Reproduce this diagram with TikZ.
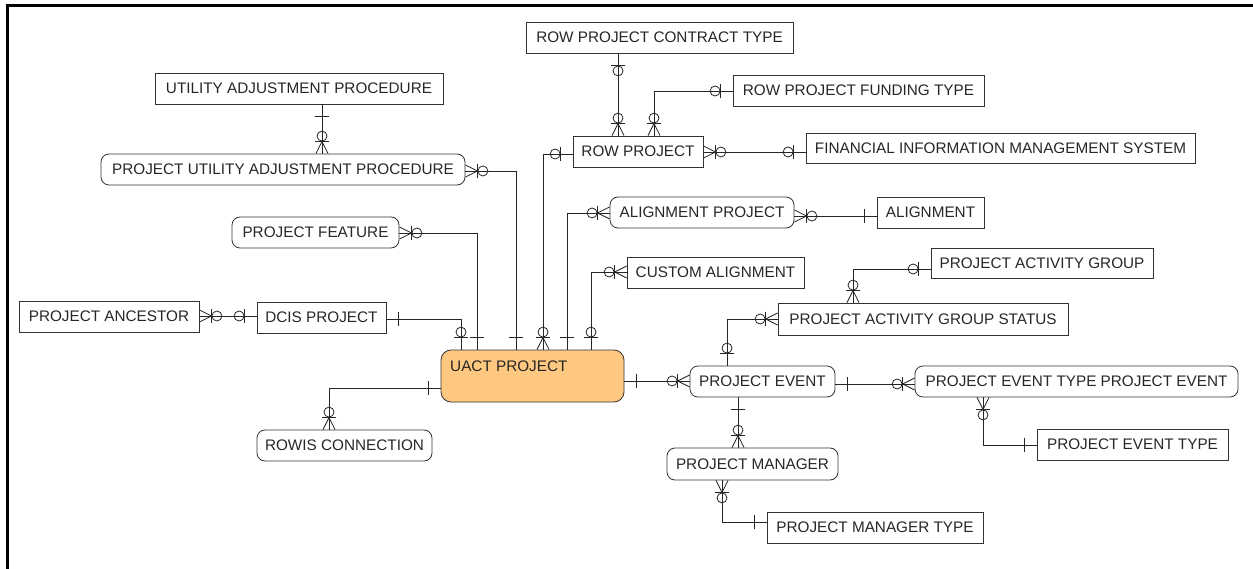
\documentclass[tikz,border=0pt]{standalone}
\usepackage{fontspec}
\setmainfont{Liberation Sans}
\definecolor{uactfill}{RGB}{255,200,128}
\begin{document}
\begin{tikzpicture}[x=1pt,y=1pt,
  ent/.style={draw=black!80, line width=0.8pt, inner sep=0pt, font=\fontsize{15.3}{18}\selectfont, text=black!85},
  rnd/.style={ent, rounded corners=8pt},
  con/.style={draw=black!85, line width=0.8pt},
  mone/.pic={\draw[con] (12,-7)--(12,7);},
  mzone/.pic={\draw[con] (12,-7)--(12,7); \draw[con] (17.5,0) circle (5pt);},
  mzmany/.pic={\draw[con] (0,-6)--(12,0)--(0,6); \draw[con] (12,-7)--(12,7); \draw[con] (17.5,0) circle (5pt);}
]
\useasboundingbox (0,0) rectangle (1253,-569);
\draw[line width=2.2pt] (7.5,-569) -- (7.5,-5.5) -- (1253,-5.5);

% entities
\node[ent, minimum width=288pt, minimum height=31pt] (uap) at (299,-88.5) {UTILITY ADJUSTMENT PROCEDURE};
\node[rnd, minimum width=364pt, minimum height=31pt] (puap) at (283,-169.5) {PROJECT UTILITY ADJUSTMENT PROCEDURE};
\node[ent, minimum width=267pt, minimum height=31pt] (rpct) at (659.5,-37.5) {ROW PROJECT CONTRACT TYPE};
\node[ent, minimum width=251pt, minimum height=31pt] (rpft) at (858.5,-90.5) {ROW PROJECT FUNDING TYPE};
\node[ent, minimum width=130pt, minimum height=31pt] (rp) at (638,-151.5) {ROW PROJECT};
\node[ent, minimum width=389pt, minimum height=30pt] (fims) at (1000.5,-148) {FINANCIAL INFORMATION MANAGEMENT SYSTEM};
\node[rnd, minimum width=184pt, minimum height=31pt] (ap) at (702,-212.5) {ALIGNMENT PROJECT};
\node[ent, minimum width=107pt, minimum height=31pt] (al) at (930.5,-212.5) {ALIGNMENT};
\node[ent, minimum width=177pt, minimum height=31pt] (ca) at (715.5,-272.5) {CUSTOM ALIGNMENT};
\node[ent, minimum width=222pt, minimum height=30pt] (pag) at (1042,-263) {PROJECT ACTIVITY GROUP};
\node[ent, minimum width=290pt, minimum height=32pt] (pags) at (923,-319) {PROJECT ACTIVITY GROUP STATUS};
\node[rnd, minimum width=145pt, minimum height=31pt] (pe) at (762.5,-381.5) {PROJECT EVENT};
\node[rnd, minimum width=323pt, minimum height=31pt] (petpe) at (1076.5,-381.5) {PROJECT EVENT TYPE PROJECT EVENT};
\node[ent, minimum width=191pt, minimum height=31pt] (pet) at (1132.5,-444.5) {PROJECT EVENT TYPE};
\node[rnd, minimum width=171pt, minimum height=32pt] (pm) at (752.5,-464) {PROJECT MANAGER};
\node[ent, minimum width=216pt, minimum height=31pt] (pmt) at (875,-527.5) {PROJECT MANAGER TYPE};
\node[ent, rounded corners=10pt, fill=uactfill, minimum width=183pt, minimum height=52pt] (uact) at (532.5,-376) {};
\node[font=\fontsize{15.3}{18}\selectfont, text=black!85, anchor=west, inner sep=0pt] (uactlbl) at (450,-366) {UACT PROJECT};
\node[rnd, minimum width=175pt, minimum height=31pt] (rowis) at (344.5,-445.5) {ROWIS CONNECTION};
\node[rnd, minimum width=167pt, minimum height=31pt] (pf) at (315.5,-232.5) {PROJECT FEATURE};
\node[ent, minimum width=180pt, minimum height=31pt] (pa) at (109,-316.5) {PROJECT ANCESTOR};
\node[ent, minimum width=129pt, minimum height=31pt] (dcis) at (321.5,-317.5) {DCIS PROJECT};

% connectors
\draw[con] (uap.south -| 322,0) coordinate (a1) -- (puap.north -| 322,0) coordinate (b1);
\pic[rotate=270] at (a1) {mone}; \pic[rotate=90] at (b1) {mzmany};

\draw[con] (rpct.south -| 618,0) coordinate (a2) -- (rp.north -| 618,0) coordinate (b2);
\pic[rotate=270] at (a2) {mzone}; \pic[rotate=90] at (b2) {mzmany};

\draw[con] (rpft.west |- 0,-91) coordinate (a3) -| (rp.north -| 654,0) coordinate (b3);
\pic[rotate=180] at (a3) {mzone}; \pic[rotate=90] at (b3) {mzmany};

\draw[con] (rp.east |- 0,-152) coordinate (a4) -- (fims.west |- 0,-152) coordinate (b4);
\pic[rotate=0] at (a4) {mzmany}; \pic[rotate=180] at (b4) {mzone};

\draw[con] (rp.west |- 0,-154) coordinate (a5) -| (uact.north -| 543,0) coordinate (b5);
\pic[rotate=180] at (a5) {mzone}; \pic[rotate=90] at (b5) {mzmany};

\draw[con] (puap.east |- 0,-171) coordinate (a6) -| (uact.north -| 516,0) coordinate (b6);
\pic[rotate=0] at (a6) {mzmany}; \pic[rotate=90] at (b6) {mone};

\draw[con] (pf.east |- 0,-233) coordinate (a7) -| (uact.north -| 477,0) coordinate (b7);
\pic[rotate=0] at (a7) {mzmany}; \pic[rotate=90] at (b7) {mone};

\draw[con] (dcis.east |- 0,-319) coordinate (a8) -| (uact.north -| 461,0) coordinate (b8);
\pic[rotate=0] at (a8) {mone}; \pic[rotate=90] at (b8) {mzone};

\draw[con] (pa.east |- 0,-316) coordinate (a9) -- (dcis.west |- 0,-316) coordinate (b9);
\pic[rotate=0] at (a9) {mzmany}; \pic[rotate=180] at (b9) {mzone};

\draw[con] (ap.west |- 0,-213) coordinate (a10) -| (uact.north -| 567,0) coordinate (b10);
\pic[rotate=180] at (a10) {mzmany}; \pic[rotate=90] at (b10) {mone};

\draw[con] (ap.east |- 0,-216) coordinate (a11) -- (al.west |- 0,-216) coordinate (b11);
\pic[rotate=0] at (a11) {mzmany}; \pic[rotate=180] at (b11) {mone};

\draw[con] (ca.west |- 0,-272) coordinate (a12) -| (uact.north -| 591,0) coordinate (b12);
\pic[rotate=180] at (a12) {mzmany}; \pic[rotate=90] at (b12) {mzone};

\draw[con] (uact.east |- 0,-381) coordinate (a13) -- (pe.west |- 0,-381) coordinate (b13);
\pic[rotate=0] at (a13) {mone}; \pic[rotate=180] at (b13) {mzmany};

\draw[con] (uact.west |- 0,-388) coordinate (a14) -| (rowis.north -| 329,0) coordinate (b14);
\pic[rotate=180] at (a14) {mone}; \pic[rotate=90] at (b14) {mzmany};

\draw[con] (pags.west |- 0,-319) coordinate (a15) -| (pe.north -| 727,0) coordinate (b15);
\pic[rotate=180] at (a15) {mzmany}; \pic[rotate=90] at (b15) {mzone};

\draw[con] (pag.west |- 0,-269) coordinate (a16) -| (pags.north -| 853,0) coordinate (b16);
\pic[rotate=180] at (a16) {mzone}; \pic[rotate=90] at (b16) {mzmany};

\draw[con] (pe.east |- 0,-384) coordinate (a17) -- (petpe.west |- 0,-384) coordinate (b17);
\pic[rotate=0] at (a17) {mone}; \pic[rotate=180] at (b17) {mzmany};

\draw[con] (petpe.south -| 983,0) coordinate (a18) |- (pet.west |- 0,-445) coordinate (b18);
\pic[rotate=270] at (a18) {mzmany}; \pic[rotate=180] at (b18) {mone};

\draw[con] (pe.south -| 738,0) coordinate (a19) -- (pm.north -| 738,0) coordinate (b19);
\pic[rotate=270] at (a19) {mone}; \pic[rotate=90] at (b19) {mzmany};

\draw[con] (pm.south -| 722,0) coordinate (a20) |- (pmt.west |- 0,-522) coordinate (b20);
\pic[rotate=270] at (a20) {mzmany}; \pic[rotate=180] at (b20) {mone};
\end{tikzpicture}
\end{document}
